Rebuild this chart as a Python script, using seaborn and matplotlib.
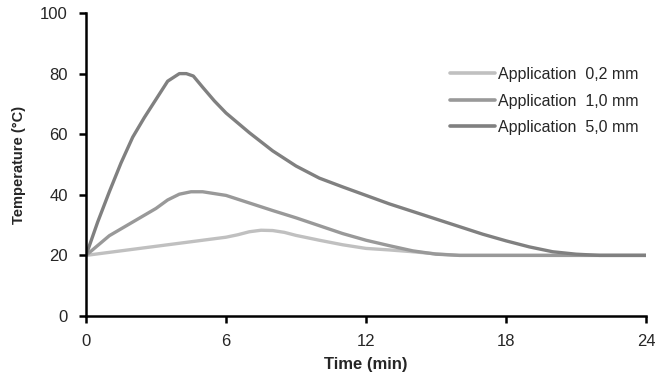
import pandas as pd
import matplotlib.pyplot as plt
import numpy as np
import seaborn as sns

# values
t_02 = [0, 1, 2, 3, 4, 5, 6, 6.5, 7, 7.5, 8, 8.5, 9, 10, 11, 12, 13, 14, 15, 16, 18, 20, 22, 24]
y_02 = [20, 21, 22, 23, 24, 25, 26, 26.8, 27.8, 28.3, 28.2, 27.6, 26.6, 25, 23.5, 22.3, 21.8, 21.2, 20.5, 20, 20, 20, 20, 20]

t_10 = [0, 1, 2, 3, 3.5, 4, 4.5, 5, 6, 7, 8, 9, 10, 11, 12, 13, 14, 15, 16, 18, 20, 22, 24]
y_10 = [20, 26.5, 31, 35.5, 38.3, 40.2, 41, 41, 39.8, 37.3, 34.8, 32.4, 29.8, 27.2, 25, 23.2, 21.5, 20.4, 20, 20, 20, 20, 20]

t_50 = [0, 0.5, 1, 1.5, 2, 2.5, 3, 3.5, 4, 4.3, 4.6, 5, 5.5, 6, 7, 8, 9, 10, 11, 12, 13, 14, 15, 16, 17, 18, 19, 20, 21, 22, 23, 24]
y_50 = [20, 31, 41, 50.5, 59, 65.5, 71.5, 77.5, 80, 80, 79.2, 75.5, 71, 67, 60.5, 54.5, 49.5, 45.5, 42.6, 39.8, 37, 34.5, 32, 29.5, 27, 24.8, 22.8, 21.2, 20.4, 20, 20, 20]

labels = ["Application  0,2 mm", "Application  1,0 mm", "Application  5,0 mm"]
colors = ["#c0c0c0", "#999999", "#808080"]

df = pd.concat([
    pd.DataFrame({"Time": t_02, "Temp": y_02, "Series": labels[0]}),
    pd.DataFrame({"Time": t_10, "Temp": y_10, "Series": labels[1]}),
    pd.DataFrame({"Time": t_50, "Temp": y_50, "Series": labels[2]}),
])

sns.set_style("ticks")
plt.rcParams["font.family"] = ["Liberation Sans", "DejaVu Sans"]

fig = plt.figure(figsize=(6.55, 3.83), dpi=100)
ax = fig.add_axes([0.1313, 0.175, 0.855, 0.791])

sns.lineplot(data=df, x="Time", y="Temp", hue="Series", palette=colors,
             linewidth=2.4, ax=ax, sort=False, estimator=None)

ax.set_xlim(0, 24)
ax.set_ylim(0, 100)
ax.set_xticks([0, 6, 12, 18, 24])
ax.set_yticks([0, 20, 40, 60, 80, 100])
ax.tick_params(labelsize=12, width=1.8, length=5, color="black", pad=8)
for s in ["left", "bottom"]:
    ax.spines[s].set_linewidth(1.8)
    ax.spines[s].set_color("black")
sns.despine(ax=ax)
ax.margins(0)

ax.set_xlabel("Time (min)", fontsize=12, fontweight="bold", labelpad=6)
ax.set_ylabel("Temperature (°C)", fontsize=10.5, fontweight="bold", labelpad=10)

leg = ax.legend(frameon=False, fontsize=11.5, loc="upper left",
                bbox_to_anchor=(0.624, 0.869), handlelength=2.8,
                handletextpad=0.2, labelspacing=0.72)
for line in leg.get_lines():
    line.set_linewidth(2.6)

fig.savefig("out.png", dpi=100)
